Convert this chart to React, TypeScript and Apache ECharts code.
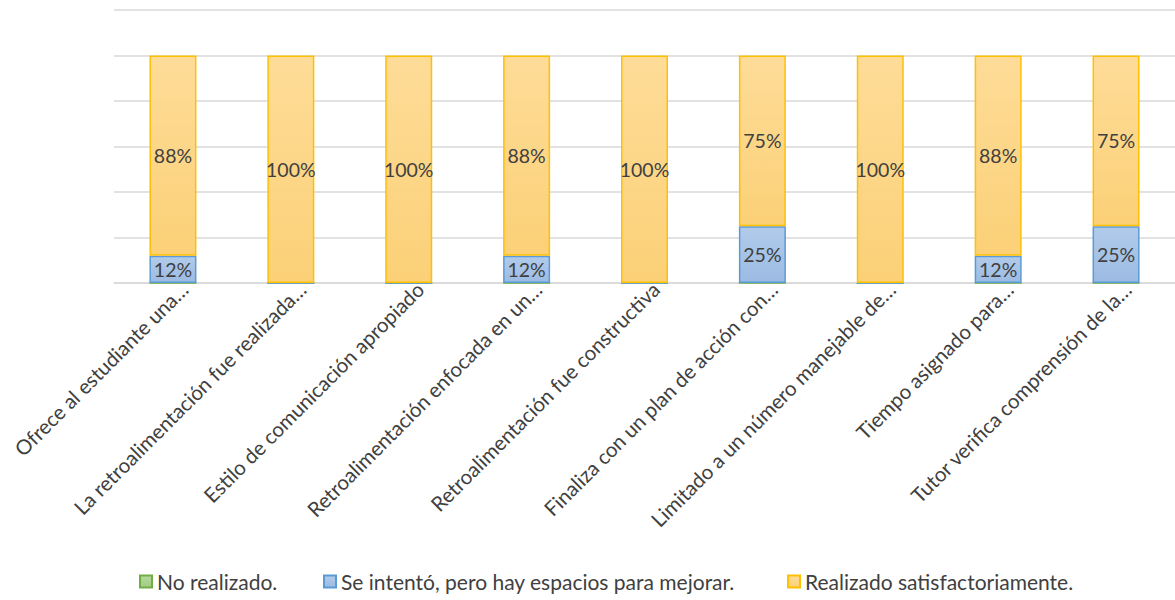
import React, { useEffect, useRef } from "react";
import * as echarts from "echarts";

const categories = [
  "Ofrece al estudiante una…",
  "La retroalimentación fue realizada…",
  "Estilo de comunicación apropiado",
  "Retroalimentación enfocada en un…",
  "Retroalimentación fue constructiva",
  "Finaliza con un plan de acción con…",
  "Limitado a un número manejable de…",
  "Tiempo asignado para…",
  "Tutor verifica comprensión de la…",
];

const seriesNames = [
  "No realizado.",
  "Se intentó, pero hay espacios para mejorar.",
  "Realizado satisfactoriamente.",
];

const noRealizado = [0, 0, 0, 0, 0, 0, 0, 0, 0];
const seIntento = [12, 0, 0, 12, 0, 25, 0, 12, 25];
const realizado = [88, 100, 100, 88, 100, 75, 100, 88, 75];

const FONT = "Lato, 'Open Sans', sans-serif";
const TEXT = "#404040";

export default function App() {
  const ref = useRef<HTMLDivElement>(null);
  useEffect(() => {
    if (!ref.current) return;
    const chart = echarts.init(ref.current, null, { renderer: "svg" });
    const grad = (a: string, b: string) =>
      new echarts.graphic.LinearGradient(0, 0, 0, 1, [
        { offset: 0, color: a },
        { offset: 1, color: b },
      ]);
    const valueLabel = {
      show: true,
      position: "inside",
      color: TEXT,
      fontFamily: FONT,
      fontSize: 19.5,
      formatter: (p: any) => (p.value > 0 ? p.value + "%" : ""),
    };
    const legendCommon = {
      bottom: 3,
      itemWidth: 12,
      itemHeight: 12,
      icon: "rect",
      textStyle: { color: TEXT, fontFamily: FONT, fontSize: 21 },
    };
    chart.setOption({
      animation: false,
      backgroundColor: "#ffffff",
      grid: { left: 114, right: 0, top: 10, bottom: 317, containLabel: false },
      legend: [
        { ...legendCommon, left: 134, data: [seriesNames[0]] },
        { ...legendCommon, left: 318, data: [seriesNames[1]] },
        { ...legendCommon, left: 782, data: [seriesNames[2]] },
      ],
      xAxis: {
        type: "category",
        data: categories,
        axisTick: { show: false },
        axisLine: { lineStyle: { color: "#D9D9D9", width: 1.5 } },
        axisLabel: {
          rotate: 45,
          interval: 0,
          margin: 14,
          padding: [0, -16, 0, 0],
          color: TEXT,
          fontFamily: FONT,
          fontSize: 20.5,
        },
      },
      yAxis: {
        type: "value",
        min: 0,
        max: 120,
        interval: 20,
        axisLabel: { show: false },
        axisLine: { show: false },
        axisTick: { show: false },
        splitLine: { lineStyle: { color: "#D9D9D9", width: 1.5 } },
      },
      series: [
        {
          name: seriesNames[0],
          type: "bar",
          stack: "total",
          barWidth: 47,
          data: noRealizado,
          itemStyle: {
            color: grad("#B5D99C", "#A2CC85"),
            borderColor: "#70AD47",
            borderWidth: 1.5,
          },
          label: valueLabel,
        },
        {
          name: seriesNames[1],
          type: "bar",
          stack: "total",
          barWidth: 47,
          data: seIntento,
          itemStyle: {
            color: grad("#B1CBEA", "#9CBBE3"),
            borderColor: "#5B9BD5",
            borderWidth: 1.5,
          },
          label: valueLabel,
        },
        {
          name: seriesNames[2],
          type: "bar",
          stack: "total",
          barWidth: 47,
          data: realizado,
          itemStyle: {
            color: grad("#FEDC98", "#FBD077"),
            borderColor: "#FFC000",
            borderWidth: 1.5,
          },
          label: valueLabel,
        },
      ],
    });
    return () => chart.dispose();
  }, []);
  return (
    <div
      ref={ref}
      style={{ position: "absolute", left: 0, top: 0, width: 1175, height: 600 }}
    />
  );
}
